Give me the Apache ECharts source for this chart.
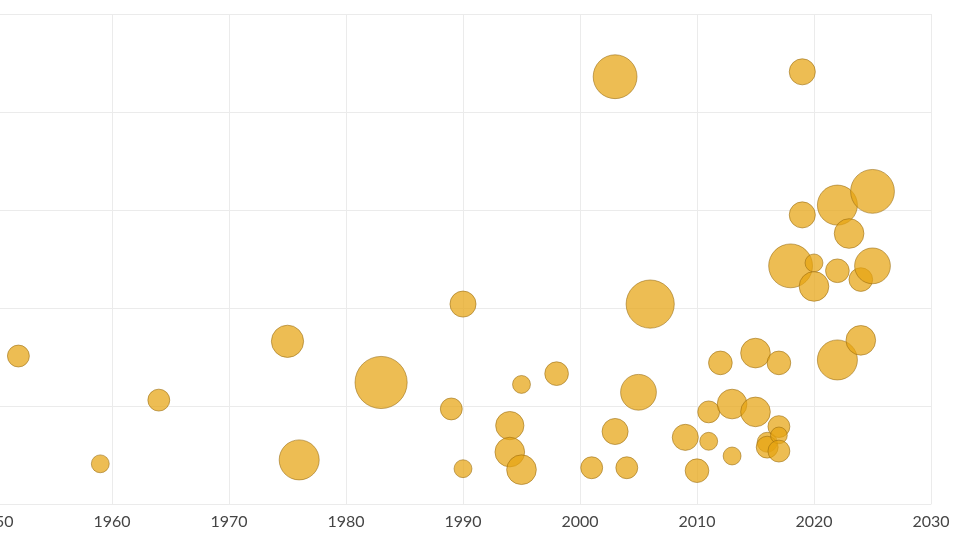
<!DOCTYPE html>
<html>
  <head>
    <meta charset="utf-8">
    <title>Bubble chart</title>
    <style>
      html, body { margin: 0; padding: 0; background: #fff; }
    </style>
  </head>
  <body>
    <div id="main" style="width: 960px;height:540px;"></div>
  </body>
  <script type="text/javascript" src="https://cdn.jsdelivr.net/npm/echarts@6/dist/echarts.min.js"></script>
  <script type="text/javascript">
      // data
      var years = [1952, 1959, 1964, 1975, 1976, 1983, 1989, 1990, 1990, 1994,
                   1994, 1995, 1995, 1998, 2001, 2003, 2003, 2004, 2005, 2006,
                   2009, 2010, 2011, 2011, 2012, 2013, 2013, 2015, 2015, 2016,
                   2016, 2017, 2017, 2017, 2017, 2018, 2019, 2019, 2020, 2020,
                   2022, 2022, 2022, 2023, 2024, 2024, 2025, 2025];
      var values = [1.51, 0.41, 1.06, 1.66, 0.45, 1.24, 0.97, 2.04, 0.36, 0.80,
                    0.53, 1.22, 0.35, 1.33, 0.37, 4.36, 0.74, 0.37, 1.14, 2.04,
                    0.68, 0.34, 0.94, 0.64, 1.44, 1.02, 0.49, 1.54, 0.94, 0.63,
                    0.58, 1.44, 0.79, 0.70, 0.54, 2.43, 4.41, 2.95, 2.46, 2.22,
                    3.05, 2.38, 1.47, 2.76, 2.29, 1.67, 3.19, 2.43];
      var weights = [12, 8, 12, 26, 40, 68, 12, 17, 8, 20,
                     22, 8, 22, 14, 12, 48, 17, 12, 32, 58,
                     17, 14, 12, 8, 14, 22, 8, 22, 22, 10,
                     12, 14, 12, 7, 12, 48, 17, 17, 8, 22,
                     40, 14, 40, 22, 14, 22, 48, 32];
      var xTicks = [1950, 2030, 10];

      var points = [];
      for (var i = 0; i < years.length; i++) {
          points.push([years[i], values[i], weights[i]]);
      }

      var myChart = echarts.init(document.getElementById('main'));

      var gridLine = { show: true, lineStyle: { color: '#ebebeb', width: 1 } };

      myChart.setOption({
          animation: false,
          grid: { left: -5, right: 29, top: 14, bottom: 36, outerBoundsMode: 'none', containLabel: false },
          xAxis: {
              type: 'value',
              min: xTicks[0],
              max: xTicks[1],
              interval: xTicks[2],
              axisLine: { show: true, lineStyle: { color: '#ebebeb' } },
              axisTick: { show: false },
              splitLine: gridLine,
              axisLabel: {
                  color: '#454545',
                  fontFamily: 'Lato',
                  fontSize: 16,
                  margin: 10,
                  formatter: function (v) { return String(v); }
              }
          },
          yAxis: {
              type: 'value',
              min: 0,
              max: 5,
              interval: 1,
              axisLine: { show: false },
              axisTick: { show: false },
              axisLabel: { show: false },
              splitLine: gridLine
          },
          series: [{
              type: 'scatter',
              data: points,
              symbolSize: function (d) {
                  return Math.sqrt(d[2] * 10) * 2;
              },
              itemStyle: {
                  color: 'rgba(230, 163, 16, 0.9)',
                  borderColor: 'rgba(150, 105, 15, 0.7)',
                  borderWidth: 1
              }
          }]
      });
  </script>
</html>
